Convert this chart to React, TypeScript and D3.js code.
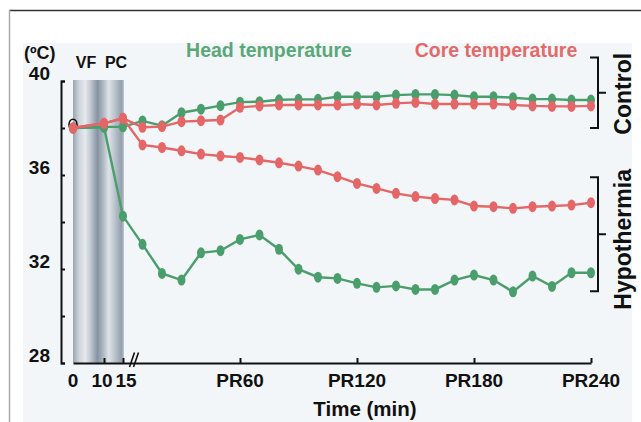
import React, { useEffect, useRef } from 'react';
import * as d3 from 'd3';

const width = 641, height = 422;

// minutes: 0 = VF, 10 = PC, 15 = start of post-resuscitation (PR0)
const preTimes = [0, 10, 15];
const prTimes = [10, 20, 30, 40, 50, 60, 70, 80, 90, 100, 110, 120, 130, 140, 150, 160, 170, 180, 190, 200, 210, 220, 230, 240];
const times = [...preTimes, ...prTimes.map(t => t + 15)];

// temperatures (ºC)
const headControl = [38.0, 38.05, 38.05, 38.3, 38.1, 38.65, 38.8, 38.95, 39.1, 39.12, 39.2, 39.22, 39.22, 39.33, 39.33, 39.33, 39.4, 39.43, 39.43, 39.4, 39.33, 39.33, 39.29, 39.23, 39.23, 39.19, 39.19];
const coreControl = [38.0, 38.2, 38.41, 38.03, 38.06, 38.27, 38.31, 38.34, 38.88, 38.94, 38.98, 38.98, 38.98, 38.98, 39.02, 38.98, 39.05, 39.09, 39.02, 39.02, 39.02, 39.02, 38.98, 38.94, 38.92, 38.92, 38.94];
const coreHypo = [38.0, 38.2, 38.41, 37.28, 37.17, 37.03, 36.89, 36.81, 36.75, 36.64, 36.52, 36.38, 36.21, 35.93, 35.64, 35.43, 35.22, 35.08, 35.0, 34.94, 34.68, 34.65, 34.58, 34.65, 34.68, 34.72, 34.82];
const headHypo = [38.0, 38.03, 34.25, 33.05, 31.81, 31.53, 32.69, 32.78, 33.26, 33.45, 32.84, 31.99, 31.65, 31.6, 31.39, 31.22, 31.28, 31.13, 31.13, 31.53, 31.74, 31.53, 31.03, 31.7, 31.26, 31.84, 31.84];

const baselineMarker = { t: 0, value: 38.14 };

const xTickValues = [0, 10, 15, 75, 135, 195, 255];
const xTickLabels = ['0', '10', '15', 'PR60', 'PR120', 'PR180', 'PR240'];
const yTickValues = [28, 30, 32, 34, 36, 38, 40];
const yTickLabels = [40, 36, 32, 28];

const groups = [
    { name: 'Control', range: [38, 41], shift: 1 },
    { name: 'Hypothermia', range: [31.05, 35.9], shift: 5 },
];

const green = '#4a9e6c';
const red = '#e46667';

const x = d3.scaleLinear().domain([0, 10, 15, 255]).range([73, 104, 123, 591]);
const y = d3.scaleLinear().domain([28, 40]).range([363, 81]);

const font = 'Liberation Sans, Arial, Helvetica, sans-serif';

// draws one series: line + elliptic markers
function Series({ values, color }: { values: number[], color: string }) {
    const line = d3.line<number>()
        .x((d, i) => x(times[i]))
        .y(d => y(d));
    return (
        <g>
            <path d={line(values) || ''} fill="none" stroke={color} strokeWidth={2.4} />
            {values.map((v, i) => (
                <ellipse key={i} cx={x(times[i])} cy={y(v)} rx={4} ry={5.5} fill={color} />
            ))}
        </g>
    );
}

export default function App() {
    const xAxisRef = useRef<SVGGElement>(null);
    const yAxisRef = useRef<SVGGElement>(null);

    useEffect(() => {
        const xAxis = d3.axisBottom(x)
            .tickValues(xTickValues.slice(1))
            .tickSizeInner(-5)
            .tickSizeOuter(0)
            .tickFormat(() => '');
        const yAxis = d3.axisRight(y)
            .tickValues(yTickValues)
            .tickSize(4)
            .tickFormat(() => '');
        const gx = d3.select(xAxisRef.current!).call(xAxis);
        const gy = d3.select(yAxisRef.current!).call(yAxis);
        [gx, gy].forEach(g => {
            g.selectAll('path, line').attr('stroke', '#111').attr('stroke-width', 2);
        });
    }, []);

    return (
        <svg width={width} height={height} style={{ position: 'absolute', left: 0, top: 0 }}
            fontFamily={font} fontWeight="bold">
            <defs>
                <linearGradient id="bars" x1="0" x2="1" y1="0" y2="0">
                    <stop offset="0" stopColor="#9aa5b1" />
                    <stop offset="0.12" stopColor="#cdd4db" />
                    <stop offset="0.24" stopColor="#e6eaee" />
                    <stop offset="0.36" stopColor="#b9c2cb" />
                    <stop offset="0.48" stopColor="#8693a1" />
                    <stop offset="0.58" stopColor="#aab4be" />
                    <stop offset="0.7" stopColor="#dde2e7" />
                    <stop offset="0.84" stopColor="#b5bec8" />
                    <stop offset="0.95" stopColor="#939fac" />
                    <stop offset="1" stopColor="#c0c8d0" />
                </linearGradient>
            </defs>
            <rect x={0} y={0} width={width} height={height} fill="#fff" />
            <rect x={23} y={43} width={609} height={379} fill="#f3f6f8" />
            <line x1={9} x2={width} y1={10.5} y2={10.5} stroke="#333" strokeWidth={1.5} />
            <line x1={9.5} x2={9.5} y1={10} y2={height} stroke="#aaa" strokeWidth={1.5} />

            {/* VF / PC period */}
            <rect x={x(0)} y={80} width={x(15) - x(0) + 1} height={y(28) - 80} fill="url(#bars)" />

            <g ref={yAxisRef} transform="translate(61,0)" />
            <g ref={xAxisRef} transform={`translate(0,${y(28)})`} />
            {/* axis break */}
            <g stroke="#111" strokeWidth={1.6}>
                <line x1={129.5} y1={367} x2={134.5} y2={352.5} />
                <line x1={133.5} y1={367} x2={138.5} y2={352.5} />
            </g>

            {yTickLabels.map(v => (
                <text key={v} x={50} y={y(v) - 1} textAnchor="end" fontSize={19} fill="#111">{v}</text>
            ))}
            {xTickLabels.map((l, i) => (
                <text key={l} x={x(xTickValues[i]) + (i === 1 ? -2 : i === 2 ? 3 : 0)} y={387}
                    textAnchor="middle" fontSize={19} fill="#111">{l}</text>
            ))}
            <text x={365} y={416} textAnchor="middle" fontSize={20.5} fill="#111">Time (min)</text>
            <text x={24} y={59} fontSize={18} fill="#111">(ºC)</text>
            <text x={86} y={68} textAnchor="middle" fontSize={16} fill="#111">VF</text>
            <text x={116} y={68} textAnchor="middle" fontSize={16} fill="#111">PC</text>

            <text x={269} y={57} textAnchor="middle" fontSize={19.5} fill="#5aa878">Head temperature</text>
            <text x={496} y={57} textAnchor="middle" fontSize={19.5} fill="#e46a6a">Core temperature</text>

            <ellipse cx={x(baselineMarker.t)} cy={y(baselineMarker.value)} rx={4} ry={5.5}
                fill="none" stroke="#111" strokeWidth={1.6} />
            <Series values={headControl} color={green} />
            <Series values={headHypo} color={green} />
            <Series values={coreControl} color={red} />
            <Series values={coreHypo} color={red} />

            {groups.map(g => {
                const y0 = y(g.range[1]), y1 = y(g.range[0]), ym = (y0 + y1) / 2;
                return (
                    <g key={g.name}>
                        <path d={`M590,${y0}H598V${y1}H590M598,${ym}H606`} fill="none" stroke="#111" strokeWidth={2} />
                        <text transform={`translate(631,${ym + g.shift}) rotate(-90)`} textAnchor="middle"
                            fontSize={23} fill="#111">{g.name}</text>
                    </g>
                );
            })}
        </svg>
    );
}
